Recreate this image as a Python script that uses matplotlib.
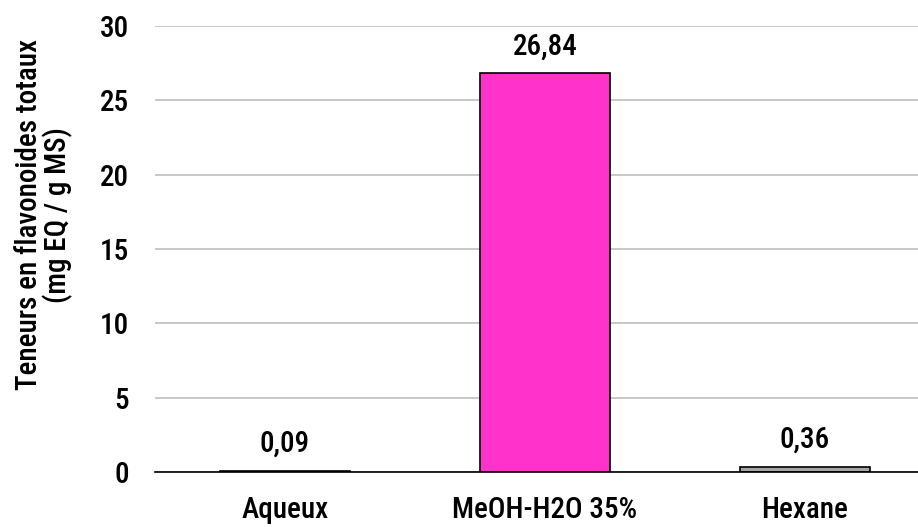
import matplotlib.pyplot as plt

plt.rcParams['font.family'] = ['Roboto Condensed', 'DejaVu Sans']
plt.rcParams['font.weight'] = 500

extraits = ["Aqueux", "MeOH-H2O 35%", "Hexane"]
teneurs = [0.09, 26.84, 0.36]
couleurs = ["#1a1a1a", "#ff33cc", "#a6a6a6"]
yticks = [0, 5, 10, 15, 20, 25, 30]

fig = plt.figure(figsize=(9.18, 5.27), dpi=100)
ax = fig.add_axes([0.1688, 0.1044, 0.8312, 0.8463])

x = range(len(extraits))
ax.bar(x, teneurs, width=0.5, color=couleurs, edgecolor="black", linewidth=1.2, zorder=3)

for xi, v in zip(x, teneurs):
    ax.annotate(f"{v:.2f}".replace(".", ","), xy=(xi, v), xytext=(0, 9),
                textcoords="offset points", ha="center", va="bottom", fontsize=21)

ax.set_ylim(0, 30)
ax.set_xlim(-0.5, -0.5 + 763 / 260)
ax.set_yticks(yticks)
ax.set_xticks(list(x))
ax.set_xticklabels(extraits)
ax.tick_params(axis="both", length=0, labelsize=21)
ax.tick_params(axis="y", pad=19)
ax.tick_params(axis="x", pad=17)
ax.yaxis.grid(True, color="#bfbfbf", linewidth=1.2, zorder=0)
for s in ["top", "right", "left"]:
    ax.spines[s].set_visible(False)
ax.spines["bottom"].set_color("black")
ax.spines["bottom"].set_linewidth(1.2)
ax.spines["bottom"].set_zorder(4)

fig.text(44 / 918, 1 - 215 / 527, "Teneurs en flavonoides totaux\n(mg EQ / g MS)",
         rotation=90, ha="center", va="center", fontsize=21, linespacing=1.0,
         multialignment="center")

fig.savefig("out.png", dpi=100)
